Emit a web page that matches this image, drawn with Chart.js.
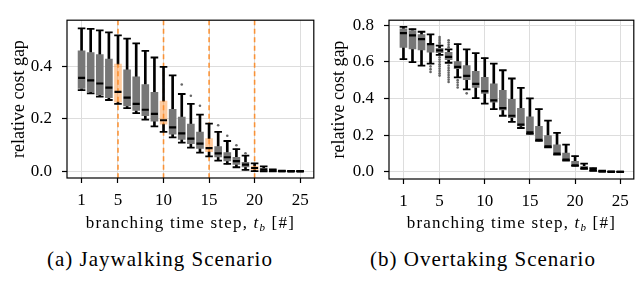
<!DOCTYPE html>
<html>
<head>
<meta charset="utf-8">
<script src="https://cdn.jsdelivr.net/npm/chart.js@4/dist/chart.umd.min.js"></script>
<style>
  body { margin: 0; background: #fff; }
  #wrap { position: relative; width: 640px; height: 295px; overflow: hidden; }
  canvas { position: absolute; top: 0; }
  .cap {
    position: absolute; top: 247px; width: 240px; text-align: center;
    font-family: "Times New Roman", "Liberation Serif", Times, serif; font-size: 21px; line-height: 24px;
    letter-spacing: 1px; color: #000; white-space: nowrap;
  }
</style>
</head>
<body>
<div id="wrap">
  <canvas id="jay" width="320" height="245" style="left:0"></canvas>
  <canvas id="ovt" width="320" height="245" style="left:320px"></canvas>
  <div class="cap" style="left:40px">(a) Jaywalking Scenario</div>
  <div class="cap" style="left:363px">(b) Overtaking Scenario</div>
</div>
<script>
const steps = [1, 2, 3, 4, 5, 6, 7, 8, 9, 10, 11, 12, 13, 14, 15, 16, 17, 18, 19, 20, 21, 22, 23, 24, 25];
const xTicks = [1, 5, 10, 15, 20, 25];

// (a) jaywalking: box stats per branching step
const jayHigh = [0.545, 0.543, 0.537, 0.530, 0.518, 0.506, 0.488, 0.459, 0.434, 0.398, 0.366, 0.295, 0.257, 0.216, 0.182, 0.151, 0.116, 0.085, 0.060, 0.031, 0.019, 0.008, 0.003, 0.002, 0.001];
const jayQ3 = [0.459, 0.453, 0.445, 0.428, 0.409, 0.387, 0.360, 0.331, 0.301, 0.268, 0.237, 0.207, 0.180, 0.150, 0.125, 0.095, 0.072, 0.054, 0.035, 0.020, 0.012, 0.005, 0.002, 0.001, 0.001];
const jayMed = [0.356, 0.347, 0.335, 0.319, 0.303, 0.281, 0.257, 0.235, 0.219, 0.195, 0.168, 0.145, 0.125, 0.106, 0.089, 0.069, 0.054, 0.039, 0.026, 0.013, 0.007, 0.003, 0.001, 0.0, 0.0];
const jayQ1 = [0.316, 0.303, 0.291, 0.281, 0.264, 0.250, 0.232, 0.212, 0.191, 0.180, 0.142, 0.122, 0.106, 0.088, 0.075, 0.055, 0.040, 0.027, 0.017, 0.006, 0.003, 0.001, 0.0, 0.0, 0.0];
const jayLow = [0.310, 0.297, 0.285, 0.272, 0.257, 0.241, 0.222, 0.197, 0.172, 0.151, 0.130, 0.110, 0.091, 0.072, 0.057, 0.041, 0.029, 0.016, 0.006, 0.001, 0.0, 0.0, 0.0, 0.0, 0.0];
const jayOutliers = [[], [], [], [], [], [], [], [], [], [], [], [0.331], [0.288], [0.250], [], [0.176], [0.136], [0.100], [0.069], [], [], [], [], [], []];
const jayBranch = [5, 10, 15, 20];
const jayTicks = [0.0, 0.2, 0.4];

// (b) overtaking
const ovtHigh = [0.791, 0.778, 0.764, 0.750, 0.688, 0.668, 0.697, 0.668, 0.647, 0.620, 0.590, 0.554, 0.509, 0.458, 0.401, 0.342, 0.279, 0.212, 0.148, 0.086, 0.045, 0.020, 0.007, 0.002, 0.001];
const ovtQ3 = [0.780, 0.770, 0.748, 0.701, 0.674, 0.652, 0.602, 0.579, 0.548, 0.516, 0.480, 0.444, 0.396, 0.347, 0.300, 0.248, 0.198, 0.148, 0.102, 0.058, 0.030, 0.012, 0.004, 0.001, 0.0];
const ovtMed = [0.757, 0.744, 0.724, 0.697, 0.662, 0.627, 0.572, 0.523, 0.480, 0.440, 0.390, 0.347, 0.306, 0.257, 0.216, 0.175, 0.139, 0.099, 0.067, 0.036, 0.020, 0.009, 0.003, 0.0, 0.0];
const ovtQ1 = [0.679, 0.670, 0.665, 0.652, 0.650, 0.612, 0.563, 0.503, 0.460, 0.428, 0.380, 0.338, 0.296, 0.250, 0.210, 0.171, 0.136, 0.096, 0.064, 0.034, 0.017, 0.007, 0.002, 0.0, 0.0];
const ovtLow = [0.615, 0.598, 0.579, 0.590, 0.638, 0.595, 0.515, 0.450, 0.402, 0.372, 0.342, 0.306, 0.273, 0.239, 0.207, 0.169, 0.134, 0.094, 0.062, 0.033, 0.016, 0.006, 0.001, 0.0, 0.0];
const ovtOutliers = [[], [], [],
  [0.575, 0.560, 0.545],
  [0.735, 0.725, 0.715, 0.705, 0.697, 0.625, 0.612, 0.600, 0.587, 0.575, 0.562, 0.550, 0.537, 0.525],
  [0.718, 0.705, 0.693, 0.680, 0.580, 0.567, 0.554, 0.541, 0.528, 0.515, 0.502, 0.490],
  [0.500, 0.487, 0.473, 0.460],
  [0.428],
  [], [], [], [], [], [], [], [], [], [], [], [], [], [], [], [], []];
const ovtBranch = [];
const ovtTicks = [0.0, 0.2, 0.4, 0.6, 0.8];

const SERIF = '"Times New Roman", "Liberation Serif", Times, serif';
Chart.defaults.color = "#000";
Chart.defaults.font.family = SERIF;

const BOX_GRAY = "#777777";
const BOX_ORANGE = "rgba(255, 140, 40, 0.45)";

// dashed branch markers, full frame, and x title with t_b subscript
const panelDecor = {
  id: "panelDecor",
  beforeDatasetsDraw(chart, args, opts) {
    const { ctx, chartArea: a } = chart;
    const x = chart.scales.x;
    ctx.save();
    ctx.strokeStyle = "rgba(255, 127, 14, 0.8)";
    ctx.lineWidth = 1.6;
    ctx.setLineDash([5, 3.5]);
    opts.marks.forEach((v) => {
      const px = x.getPixelForValue(v);
      ctx.beginPath();
      ctx.moveTo(px, a.top);
      ctx.lineTo(px, a.bottom);
      ctx.stroke();
    });
    ctx.restore();
  },
  afterDraw(chart) {
    const { ctx, chartArea: a } = chart;
    ctx.save();
    ctx.strokeStyle = "#000";
    ctx.lineWidth = 1.2;
    ctx.strokeRect(a.left, a.top, a.right - a.left, a.bottom - a.top);

    const parts = [
      { t: "branching time step, ", f: "17px " + SERIF, dy: 0 },
      { t: "t", f: "italic 17px " + SERIF, dy: 0 },
      { t: "b", f: "italic 11px " + SERIF, dy: 3 },
      { t: " [#]", f: "17px " + SERIF, dy: 0 },
    ];
    ctx.letterSpacing = "1.2px";
    let total = 0;
    parts.forEach((p) => {
      ctx.font = p.f;
      p.w = ctx.measureText(p.t).width;
      total += p.w;
    });
    let cx = (a.left + a.right) / 2 - total / 2;
    ctx.fillStyle = "#000";
    ctx.textBaseline = "alphabetic";
    ctx.textAlign = "left";
    parts.forEach((p) => {
      ctx.font = p.f;
      ctx.fillText(p.t, cx, 228 + p.dy);
      cx += p.w;
    });
    ctx.restore();
  },
};

function makePanel(id, s, pad, yWidth, xHeight) {
  const ctx = document.getElementById(id).getContext("2d");
  const boxColors = steps.map((st) => (s.branch.includes(st) ? BOX_ORANGE : BOX_GRAY));
  const outlierPts = [];
  s.outliers.forEach((vals, i) => vals.forEach((v) => outlierPts.push({ x: steps[i], y: v })));
  const caps = steps.map((st, i) => ({ x: st, y: s.high[i] }))
    .concat(steps.map((st, i) => ({ x: st, y: s.low[i] })));

  return new Chart(ctx, {
    type: "bar",
    data: {
      datasets: [
        {
          label: "upper whisker",
          data: steps.map((st, i) => ({ x: st, y: [s.q3[i], s.high[i]] })),
          backgroundColor: "#000",
          barThickness: 2,
          grouped: false,
          order: 6,
        },
        {
          label: "lower whisker",
          data: steps.map((st, i) => ({ x: st, y: [s.low[i], s.q1[i]] })),
          backgroundColor: "#000",
          barThickness: 2,
          grouped: false,
          order: 5,
        },
        {
          label: "box",
          data: steps.map((st, i) => ({ x: st, y: [s.q1[i], s.q3[i]] })),
          backgroundColor: boxColors,
          barThickness: 7,
          grouped: false,
          order: 4,
        },
        {
          type: "scatter",
          label: "caps",
          data: caps,
          pointStyle: "line",
          pointRadius: 3.8,
          borderColor: "#000",
          borderWidth: 1.8,
          order: 3,
        },
        {
          type: "scatter",
          label: "median",
          data: steps.map((st, i) => ({ x: st, y: s.med[i] })),
          pointStyle: "line",
          pointRadius: 3.5,
          borderColor: "#000",
          borderWidth: 2.2,
          order: 2,
        },
        {
          type: "scatter",
          label: "outliers",
          data: outlierPts,
          pointRadius: 1.3,
          backgroundColor: "#666666",
          borderWidth: 0,
          order: 1,
        },
      ],
    },
    options: {
      responsive: false,
      animation: false,
      devicePixelRatio: 1,
      events: [],
      layout: { padding: pad },
      plugins: {
        legend: { display: false },
        tooltip: { enabled: false },
        panelDecor: { marks: s.branch },
      },
      scales: {
        x: {
          type: "linear",
          min: -0.6,
          max: 26.5,
          offset: false,
          afterBuildTicks: (sc) => { sc.ticks = xTicks.map((v) => ({ value: v })); },
          afterFit: (sc) => { sc.height = xHeight; },
          ticks: { autoSkip: false, maxRotation: 0, padding: 7, font: { size: 17 } },
          grid: { color: "#dddddd", lineWidth: 1, offset: false, tickLength: 5, tickColor: "#000", tickWidth: 1.2 },
          border: { display: false },
        },
        y: {
          min: s.yMin,
          max: s.yMax,
          afterBuildTicks: (sc) => { sc.ticks = s.yTicks.map((v) => ({ value: v })); },
          afterFit: (sc) => { sc.width = yWidth; },
          ticks: { padding: 10, font: { size: 17 }, callback: (v) => v.toFixed(1) },
          grid: { color: "#dddddd", lineWidth: 1, tickLength: 5, tickColor: "#000", tickWidth: 1.2 },
          border: { display: false },
          title: {
            display: true,
            text: "relative cost gap",
            font: { size: 18 },
            padding: { top: 8, bottom: 0 },
          },
        },
      },
    },
    plugins: [panelDecor],
  });
}

makePanel("jay", {
  high: jayHigh, q3: jayQ3, med: jayMed, q1: jayQ1, low: jayLow,
  outliers: jayOutliers, branch: jayBranch, yTicks: jayTicks, yMin: -0.025, yMax: 0.576,
}, { top: 17, right: 4, left: 0, bottom: 0 }, 67, 67);

makePanel("ovt", {
  high: ovtHigh, q3: ovtQ3, med: ovtMed, q1: ovtQ1, low: ovtLow,
  outliers: ovtOutliers, branch: ovtBranch, yTicks: ovtTicks, yMin: -0.039, yMax: 0.827,
}, { top: 18, right: 3, left: 0, bottom: 0 }, 69, 66);
</script>
</body>
</html>
